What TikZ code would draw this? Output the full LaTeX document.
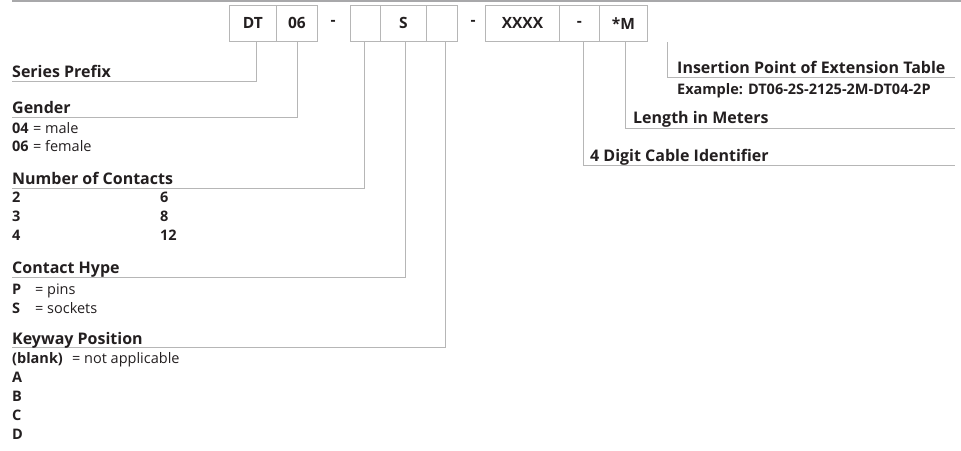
\documentclass[tikz,border=0pt]{standalone}
\usepackage{fontspec}
\setmainfont{Open Sans}
\definecolor{lg}{RGB}{182,182,182}
\definecolor{tg}{RGB}{168,168,170}
\definecolor{tx}{RGB}{35,31,32}
\newcommand{\kv}[4]{\makebox[#1][l]{\textbf{#2}}\makebox[#3][l]{=}#4}
\begin{document}
\begin{tikzpicture}[x=1pt,y=-1pt,
  cell/.style={draw=lg, line width=0.9pt, minimum height=36pt, inner sep=0pt, font=\fontsize{15.5}{17}\selectfont\bfseries, text=tx, anchor=north west},
  dashtxt/.style={inner sep=0pt, font=\fontsize{15.5}{17}\selectfont\bfseries, text=tx},
  head/.style={anchor=base west, inner sep=0pt, font=\fontsize{16}{18}\selectfont\bfseries, text=tx},
  small/.style={anchor=base west, inner sep=0pt, font=\fontsize{14.5}{16}\selectfont\bfseries, text=tx},
  val/.style={anchor=base west, inner sep=0pt, font=\fontsize{14.5}{16}\selectfont, text=tx},
  conn/.style={draw=lg, line width=0.9pt},
]
\useasboundingbox (0,0) rectangle (961,450);
\draw[tg, line width=2.2pt] (12,1) -- (961,1);

% code cells
\node[cell, minimum width=47pt] (dt) at (229,5) {DT};
\node[cell, minimum width=41pt] (c06) at (276,5) {06};
\node[dashtxt] (d1) at (333,23) {-};
\node[cell, minimum width=30pt] (e1) at (350,5) {};
\node[cell, minimum width=46pt] (cs) at (380,5) {S};
\node[cell, minimum width=31pt] (e2) at (426,5) {};
\node[dashtxt] (d2) at (473,23) {-};
\node[cell, minimum width=74pt] (xx) at (485,5) {XXXX};
\node[cell, minimum width=40pt] (d3) at (559,5) {-};
\node[cell, minimum width=48pt] (cm) at (599,5) {*M};

% connector columns
\coordinate (x1) at (256,0);
\coordinate (x2) at (297,0);
\coordinate (x3) at (364,0);
\coordinate (x4) at (405,0);
\coordinate (x5) at (445,0);
\coordinate (x6) at (583,0);
\coordinate (x7) at (625,0);
\coordinate (ins0) at (667,42);

% line ends
\coordinate (lsp) at (12,81);
\coordinate (lgd) at (12,117);
\coordinate (lnc) at (12,188);
\coordinate (lch) at (12,277);
\coordinate (lkp) at (12,347);
\coordinate (rins) at (955,77);
\coordinate (rlen) at (955,128);
\coordinate (rcab) at (955,165);

\draw[conn] (dt.south -| x1) |- (lsp);
\draw[conn] (c06.south -| x2) |- (lgd);
\draw[conn] (e1.south -| x3) |- (lnc);
\draw[conn] (cs.south -| x4) |- (lch);
\draw[conn] (e2.south -| x5) |- (lkp);
\draw[conn] (d3.south -| x6) |- (rcab);
\draw[conn] (cm.south -| x7) |- (rlen);
\draw[conn] (ins0) |- (rins);

% left headings
\node[head] (hsp) at (12,77) {Series Prefix};
\node[head] (hgd) at (12,113) {Gender};
\node[val] (g1) at (12,133) {\kv{21pt}{04}{12pt}{male}};
\node[val] (g2) at (12,151) {\kv{21pt}{06}{12pt}{female}};

\node[head] (hnc) at (12,184) {Number of Contacts};
\node[val] (n2) at (12,202) {\textbf{2}};
\node[val] (n3) at (12,221) {\textbf{3}};
\node[val] (n4) at (12,240) {\textbf{4}};
\node[val] (n6) at (160,202) {\textbf{6}};
\node[val] (n8) at (160,221) {\textbf{8}};
\node[val] (n12) at (160,240) {\textbf{12}};

\node[head] (hch) at (12,273) {Contact Hype};
\node[val] (p1) at (12,294) {\kv{23pt}{P}{12pt}{pins}};
\node[val] (p2) at (12,313) {\kv{23pt}{S}{12pt}{sockets}};

\node[head] (hkp) at (12,344) {Keyway Position};
\node[val] (k0) at (12,363) {\kv{60pt}{(blank)}{12pt}{not applicable}};
\node[val] (ka) at (12,382) {\textbf{A}};
\node[val] (kb) at (12,401) {\textbf{B}};
\node[val] (kc) at (12,420) {\textbf{C}};
\node[val] (kd) at (12,439) {\textbf{D}};

% right headings
\node[head] (hins) at (677,73) {Insertion Point of Extension Table};
\node[small] (ex) at (677,94) {Example: DT06-2S-2125-2M-DT04-2P};
\node[head] (hlen) at (633,123) {Length in Meters};
\node[head] (hcab) at (590,161) {4 Digit Cable Identifier};
\end{tikzpicture}
\end{document}
